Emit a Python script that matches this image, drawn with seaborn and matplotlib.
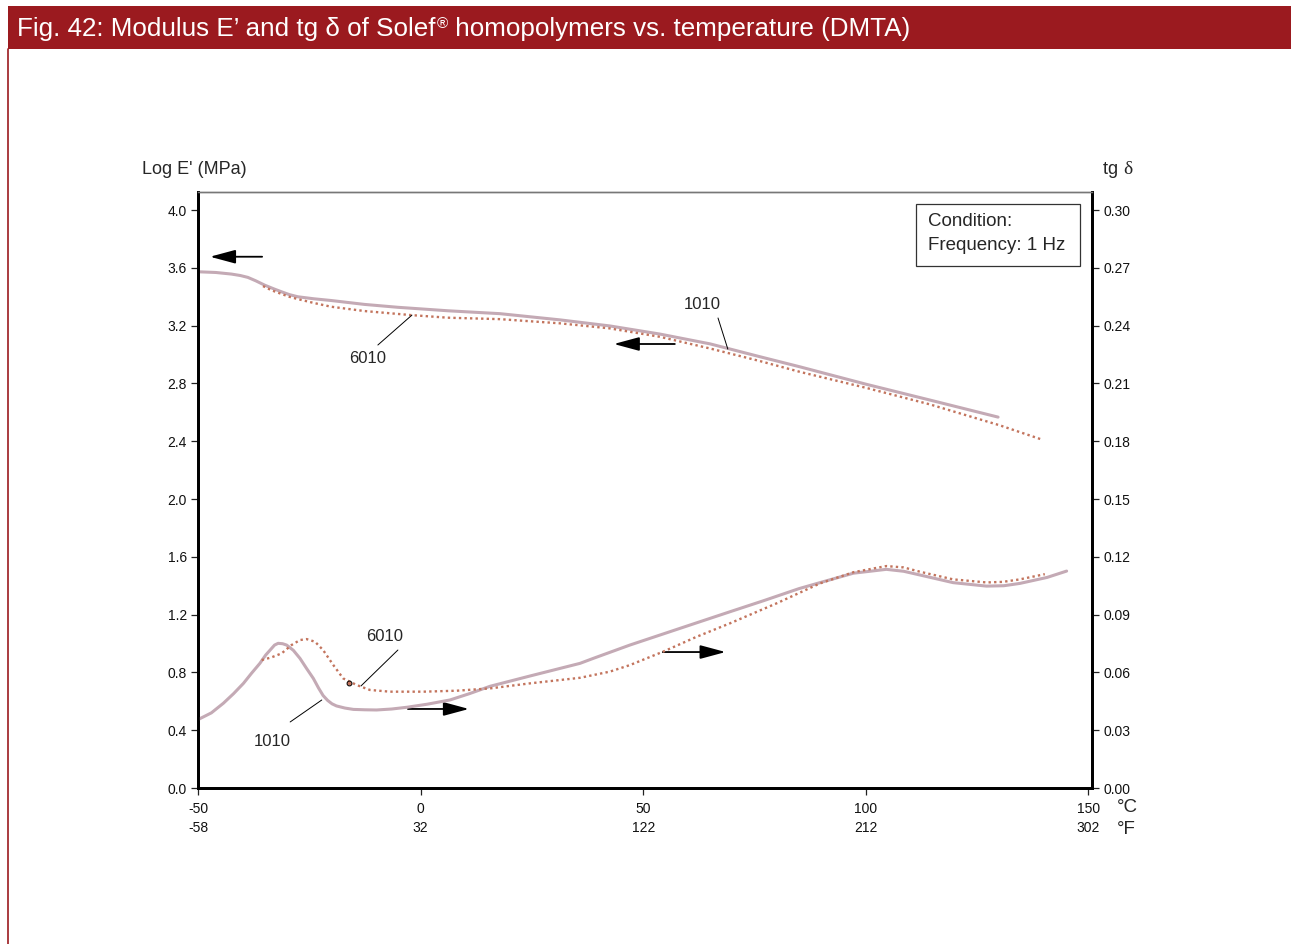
import matplotlib
matplotlib.use("Agg")
import matplotlib.pyplot as plt
import seaborn as sns
from matplotlib.patches import Rectangle
from matplotlib.lines import Line2D

# ---- axis ticks -------------------------------------------------------------
temp_c_ticks = [-50, 0, 50, 100, 150]
temp_f_ticks = [-58, 32, 122, 212, 302]
log_e_ticks = [0.0, 0.4, 0.8, 1.2, 1.6, 2.0, 2.4, 2.8, 3.2, 3.6, 4.0]
tan_d_ticks = [0.00, 0.03, 0.06, 0.09, 0.12, 0.15, 0.18, 0.21, 0.24, 0.27, 0.30]

# ---- storage modulus, log E' (MPa) -----------------------------------------
e1010_temp = [-50, -46, -42.5, -40.5, -38.8, -37, -35, -33, -31.3, -29.5,
              -27.6, -24, -20.1, -12.6, -5.1, 6.1, 17.8, 31.3, 42.5, 53.7,
              65, 76.2, 85.2, 100, 114.4, 129.7]
e1010_val = [3.573, 3.568, 3.557, 3.547, 3.534, 3.51, 3.48, 3.455, 3.435,
             3.415, 3.40, 3.386, 3.374, 3.347, 3.327, 3.303, 3.283, 3.24,
             3.198, 3.142, 3.074, 2.985, 2.915, 2.795, 2.685, 2.567]

e6010_temp = [-35.4, -33.5, -31.3, -29.5, -27.6, -24, -20.1, -12.6, -2.1, 6.1,
              17.8, 31.3, 42.5, 53.7, 65, 76.2, 85.2, 100, 114.4, 130.1, 139.7]
e6010_val = [3.474, 3.445, 3.42, 3.40, 3.384, 3.357, 3.331, 3.301, 3.273,
             3.255, 3.245, 3.216, 3.181, 3.123, 3.042, 2.955, 2.88, 2.77,
             2.655, 2.51, 2.41]

# ---- loss factor, tg delta --------------------------------------------------
t1010_temp = [-50, -47, -44.3, -42, -39.8, -38, -36.1, -34.8, -33.8, -32.8,
              -32, -31, -30.1, -28.6, -27.1, -25.6, -24.1, -22.9, -21.9, -20.9,
              -19.9, -18.9, -17, -15.1, -12.5, -9.9, -6.5, -3.1, 1.5, 6.6, 11,
              15.6, 24.5, 35.8, 38.8, 47, 58.3, 69.5, 77, 85, 89.7, 97.2,
              104.6, 108.5, 112.1, 119.6, 127.1, 131, 134.6, 140.7, 145.1]
t1010_val = [0.0355, 0.039, 0.044, 0.049, 0.0543, 0.0595, 0.0647, 0.069,
             0.0716, 0.0742, 0.0751, 0.0749, 0.0742, 0.0715, 0.0673, 0.062,
             0.0569, 0.0518, 0.048, 0.0455, 0.0437, 0.0426, 0.0415, 0.0408,
             0.0406, 0.0405, 0.041, 0.0419, 0.0435, 0.0457, 0.049, 0.0528,
             0.0581, 0.0647, 0.0673, 0.0742, 0.0829, 0.0915, 0.0972, 0.1035,
             0.1066, 0.1115, 0.1135, 0.1125, 0.1106, 0.1066, 0.1048, 0.105,
             0.1062, 0.1093, 0.1126]

t6010_temp = [-35.7, -33.5, -31.2, -29, -27.1, -25.6, -23.7, -21.9, -19.6,
              -17.4, -14.4, -11.4, -6.9, 0.6, 8.1, 15.6, 24.5, 35.8, 42.5, 47,
              54.5, 62, 69.5, 80, 89.7, 97.2, 104.6, 108.5, 112.1, 119.6,
              127.1, 130.8, 134.6, 140.2]
t6010_val = [0.0664, 0.0678, 0.0699, 0.0742, 0.0768, 0.0773, 0.0759, 0.0716,
             0.0638, 0.0569, 0.0535, 0.0509, 0.050, 0.050, 0.0505, 0.0517,
             0.0543, 0.0572, 0.0604, 0.0638, 0.0708, 0.0785, 0.0855, 0.0959,
             0.1062, 0.112, 0.1152, 0.1145, 0.1123, 0.1083, 0.1067, 0.107,
             0.1083, 0.111]

W, H = 1291, 944
SOLID = "#c4aab5"
DOTTED = "#c3745d"
RED = "#9b1a1f"
DOTS = (0, (1, 1.35))


def fxy(x, y):
    """Pixel position -> figure fraction."""
    return x / W, 1 - y / H


sns.set_theme(style="ticks")
plt.rcParams["font.family"] = ["Liberation Sans", "DejaVu Sans"]

fig = plt.figure(figsize=(W / 100, H / 100), dpi=100)
fig.patch.set_facecolor("white")

# header band and thin left border
x0, y0 = fxy(8, 49)
fig.patches.append(Rectangle((x0, y0), 1 - x0, 43 / H, transform=fig.transFigure,
                             facecolor=RED, edgecolor="none", zorder=0))
fig.lines.append(Line2D([x0, x0], [0, y0], transform=fig.transFigure,
                        color=RED, lw=1.2))

# title, with a raised registered sign
renderer = fig.canvas.get_renderer()
tx, ty = fxy(17, 36)
t1 = fig.text(tx, ty, "Fig. 42: Modulus E\u2019 and tg \u03b4 of Solef",
              color="white", fontsize=18.7, va="baseline", ha="left")
bb = t1.get_window_extent(renderer)
t2 = fig.text(bb.x1 / W + 1 / W, ty + 8 / H, "\u00ae", color="white",
              fontsize=11, va="baseline", ha="left")
bb2 = t2.get_window_extent(renderer)
fig.text(bb2.x1 / W, ty, " homopolymers vs. temperature (DMTA)",
         color="white", fontsize=18.7, va="baseline", ha="left")

# ---- main axes ----------------------------------------------------------------
left, bottom = fxy(198, 788)
right, top = fxy(1092, 192)
ax = fig.add_axes([left, bottom, right - left, top - bottom])
ax2 = ax.twinx()

sns.lineplot(x=e1010_temp, y=e1010_val, ax=ax, color=SOLID, lw=2.2)
sns.lineplot(x=e6010_temp, y=e6010_val, ax=ax, color=DOTTED, lw=1.7,
             linestyle=DOTS)
sns.lineplot(x=t1010_temp, y=t1010_val, ax=ax2, color=SOLID, lw=2.2)
sns.lineplot(x=t6010_temp, y=t6010_val, ax=ax2, color=DOTTED, lw=1.7,
             linestyle=DOTS)
ax2.plot([-16.1], [0.0545], marker="o", ms=3.5, mfc=DOTTED, mec="black",
         mew=0.7, ls="none")

ax.set_xlim(-50, 150.8)
ax.set_ylim(0, 4.125)
ax2.set_ylim(0, 4.125 * 0.075)

ax.set_xticks(temp_c_ticks)
ax.set_xticklabels([f"{c}\n{f}" for c, f in zip(temp_c_ticks, temp_f_ticks)])
for lbl in ax.get_xticklabels():
    lbl.set_linespacing(1.45)
ax.set_yticks(log_e_ticks)
ax.set_yticklabels([f"{v:.1f}" for v in log_e_ticks])
ax2.set_yticks(tan_d_ticks)
ax2.set_yticklabels([f"{v:.2f}" for v in tan_d_ticks])

for a in (ax, ax2):
    a.tick_params(axis="both", labelsize=10, length=5, width=0.9,
                  color="#222222", labelcolor="#111111", direction="out", pad=3)
    a.set_xlabel("")
    a.set_ylabel("")
    for side in ("left", "right", "bottom"):
        a.spines[side].set_linewidth(2.0)
        a.spines[side].set_color("black")
    a.spines["top"].set_linewidth(1.0)
    a.spines["top"].set_color("#777777")
    a.spines["top"].set_visible(True)
    a.spines["right"].set_visible(True)
ax.tick_params(axis="x", pad=5)

# axis titles
fig.text(*fxy(142, 169), "Log E' (MPa)", fontsize=13, va="center", ha="left")
tgx, tgy = fxy(1103, 169)
tg = fig.text(tgx, tgy, "tg ", fontsize=13, va="center", ha="left")
bbt = tg.get_window_extent(renderer)
fig.text(bbt.x1 / W, tgy, "\u03b4", fontsize=14, va="center", ha="left",
         family="Liberation Serif")
fig.text(*fxy(1117, 808), "\u00b0C", fontsize=13.5, va="center", ha="left")
fig.text(*fxy(1117, 829), "\u00b0F", fontsize=13.5, va="center", ha="left")

# condition box
bx0, by0 = fxy(916, 266)
bx1, by1 = fxy(1080, 204)
fig.patches.append(Rectangle((bx0, by0), bx1 - bx0, by1 - by0,
                             transform=fig.transFigure, facecolor="white",
                             edgecolor="#333333", lw=0.9, zorder=5))
fig.text(*fxy(928, 222), "Condition:", fontsize=13.5, va="center", ha="left",
         zorder=6)
fig.text(*fxy(928, 245), "Frequency: 1 Hz", fontsize=13.5, va="center",
         ha="left", zorder=6)

# curve labels with leader lines (left-axis data units)
labels = [
    ("6010", (-12.0, 2.976), (-9.6, 3.066), (-1.95, 3.273)),
    ("1010", (63.2, 3.343), (66.8, 3.253), (69.0, 3.038)),
    ("6010", (-8.0, 1.052), (-5.1, 0.955), (-13.4, 0.706)),
    ("1010", (-33.4, 0.325), (-29.3, 0.457), (-22.2, 0.609)),
]
for txt, pos, p0, p1 in labels:
    ax.text(pos[0], pos[1], txt, fontsize=12, ha="center", va="center")
    ax.plot([p0[0], p1[0]], [p0[1], p1[1]], color="black", lw=0.7)

# arrows pointing to the relevant axis
arrows = [
    ((-35.6, 3.677), (-47.3, 3.677)),
    ((57.1, 3.073), (43.4, 3.073)),
    ((-2.85, 0.547), (10.85, 0.547)),
    ((54.4, 0.941), (68.5, 0.941)),
]
for tail, head in arrows:
    ax.annotate("", xy=head, xytext=tail,
                arrowprops=dict(arrowstyle="-|>,head_length=1.3,head_width=0.35",
                                color="black", lw=1.3, shrinkA=0, shrinkB=0))

fig.savefig("out.png", dpi=100, facecolor="white")
